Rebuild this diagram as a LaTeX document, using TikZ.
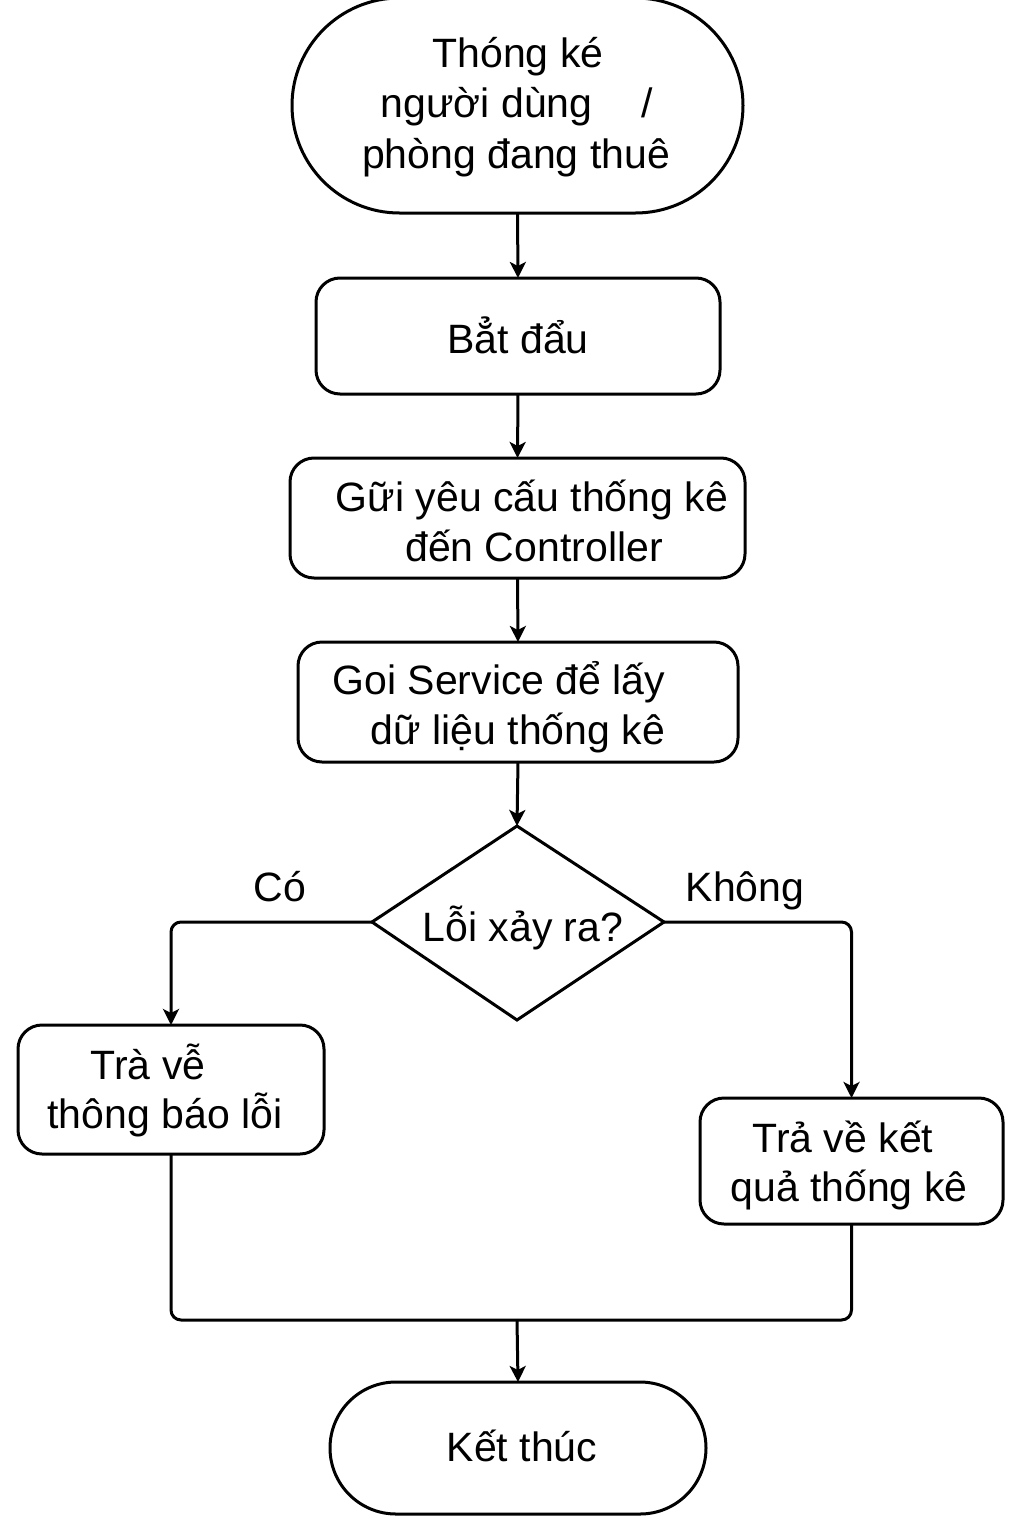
\documentclass[tikz,border=0pt]{standalone}
\usepackage{fontspec}
\setmainfont{Liberation Sans}
\usetikzlibrary{arrows.meta,shapes.geometric,shapes.misc}
\begin{document}
\begin{tikzpicture}[x=1pt,y=-1pt,
  line width=3pt,
  every node/.style={inner sep=0pt,outer sep=0pt},
  txt/.style={anchor=base,font=\fontsize{41}{48}\selectfont},
  term/.style={draw,rounded rectangle},
  proc/.style={draw,rectangle,rounded corners=24pt},
  conn/.style={-{Stealth[length=16pt,width=16pt,inset=4pt]},rounded corners=10pt},
  seg/.style={rounded corners=10pt}]
\useasboundingbox (0,0) rectangle (1024,1536);
% shapes
\node[term,minimum width=451pt,minimum height=215pt] (start) at (517.5,105.5) {};
\node[proc,minimum width=404pt,minimum height=116pt] (begin) at (518,336) {};
\node[proc,minimum width=455pt,minimum height=120pt] (send) at (517.5,518) {};
\node[proc,minimum width=440pt,minimum height=120pt] (call) at (518,702) {};
\draw (517,826) coordinate (dT) -- (664,922) coordinate (dR) -- (517,1020) coordinate (dB) -- (372,922) coordinate (dL) -- cycle;
\node[minimum width=292pt,minimum height=194pt] (err) at (518,923) {};
\node[proc,minimum width=306pt,minimum height=129pt] (ret1) at (171,1089.5) {};
\node[proc,minimum width=303pt,minimum height=126pt] (ret2) at (851.5,1161) {};
\node[term,minimum width=376pt,minimum height=132pt] (fin) at (518,1448) {};
% texts
\node[txt] (t1a) at (518,68) {Thóng ké};
\node[txt] (t1b) at (517,118) {người dùng\hspace{1.2em}/};
\node[txt] (t1c) at (516,168) {phòng đang thuê};
\node[txt] (t2) at (518,353) {Bẳt đẩu};
\node[txt] (t3a) at (532,511) {Gữi yêu cấu thống kê};
\node[txt] (t3b) at (534,561) {đến Controller};
\node[txt] (t4a) at (499,694) {Goi Service để lấy};
\node[txt] (t4b) at (518,744) {dữ liệu thống kê};
\node[txt] (t5) at (523,941) {Lỗi xảy ra?};
\node[txt] (lc) at (280,901) {Có};
\node[txt] (lk) at (745,901) {Không};
\node[txt] (t6a) at (148,1079) {Trà vễ};
\node[txt] (t6b) at (165,1128) {thông báo lỗi};
\node[txt] (t7a) at (843,1152) {Trả về kết};
\node[txt] (t7b) at (849,1201) {quả thống kê};
\node[txt] (t8) at (522,1461) {Kết thúc};
% connectors
\draw[conn] (start.south) -- (begin.north);
\draw[conn] (begin.south) -- (send.north);
\draw[conn] (send.south) -- (call.north);
\draw[conn] (call.south) -- (dT);
\draw[conn] (dL) -| (ret1.north);
\draw[conn] (dR) -| (ret2.north);
\coordinate (join) at (517,1320);
\draw[seg] (ret1.south) |- (join);
\draw[seg] (ret2.south) |- (join);
\draw[conn] (join) -- (fin.north);
\end{tikzpicture}
\end{document}
